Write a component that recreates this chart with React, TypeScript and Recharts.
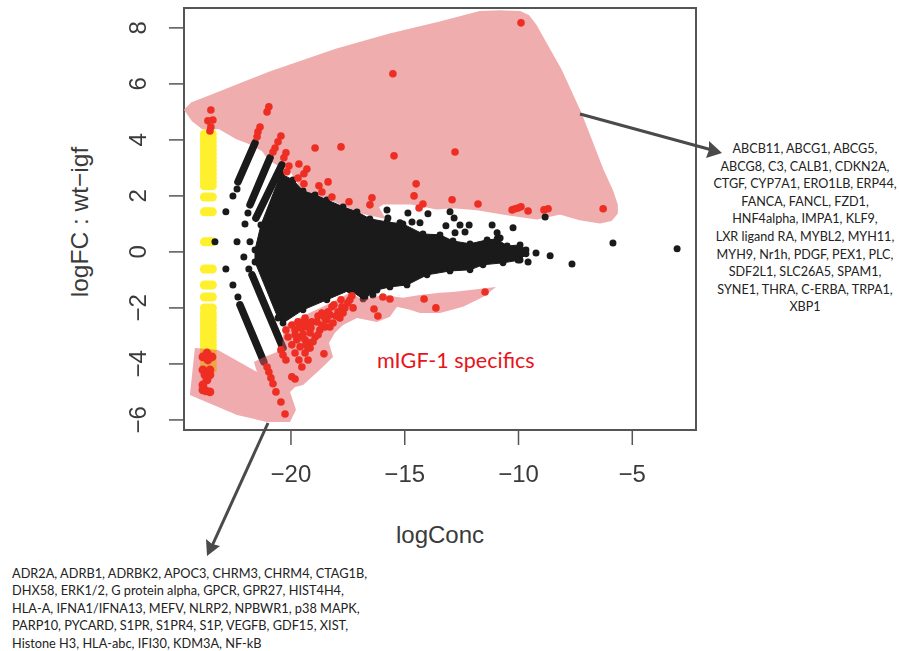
// Smear plot logFC vs logConc with pink hand-drawn regions and gene lists.
import { ScatterChart, Scatter, XAxis, YAxis, ReferenceArea } from "recharts";

type Pt = [number, number];

const X_TICKS = [-20, -15, -10, -5];
const Y_TICKS = [-6, -4, -2, 0, 2, 4, 6, 8];

// upper pink region outline
const upperRegion: Pt[] = [
  [-24.62, 5.07], [-24.35, 5.29], [-23.69, 5.5], [-20.92, 6.39], [-17.98, 7.21], [-15.65, 7.75],
  [-13.45, 8.18], [-11.69, 8.55], [-10.81, 8.58], [-9.93, 8.55], [-9.58, 8.41], [-9.27, 8.09],
  [-8.17, 6.5], [-7.3, 4.96], [-6.33, 2.93], [-5.89, 2.14], [-5.7, 1.68], [-5.7, 1.39], [-5.93, 1.16],
  [-6.42, 1.07], [-7.3, 1.18], [-8.17, 1.39],
  [-9.19, 1.21], [-10.5, 1.36], [-11.82, 1.54], [-12.88, 1.61], [-13.58, 1.57], [-14.77, 1.75],
  [-15.96, 1.75], [-16.22, 1.61], [-15.96, 1.25], [-16.97, 1.43], [-17.41, 1.61], [-18.42, 1.96],
  [-19.47, 2.21], [-20.18, 3.18], [-20.48, 3.11], [-20.92, 3.29], [-21.23, 3.64], [-21.8, 3.89],
  [-22.37, 4.07], [-23.12, 4.43], [-23.87, 4.43], [-24.31, 4.71],
];

// lower pink region outline
const lowerRegion: Pt[] = [
  [-24.22, -3.43], [-23.21, -3.5], [-21.49, -4.29], [-21.63, -3.93], [-21.27, -3.79], [-20.4, -3.5],
  [-20.31, -2.64], [-19.47, -2.29], [-18.42, -1.89], [-17.41, -1.46], [-16.83, -1.71], [-15.96, -1.54],
  [-15.08, -1.64], [-14.33, -1.54], [-13.45, -1.46], [-12.88, -1.43], [-10.99, -1.25], [-11.56, -1.61],
  [-12.44, -1.96], [-13.45, -2.18], [-14.33, -2.18], [-14.77, -2.07], [-15.34, -1.96], [-15.65, -2.32],
  [-16.22, -2.5], [-17.1, -2.36], [-17.71, -2.61], [-18.07, -2.89], [-18.33, -3.25], [-18.15, -3.75],
  [-18.73, -4.21], [-19.47, -4.75], [-19.82, -4.82], [-20.04, -5], [-19.78, -5.64], [-20.04, -6.07],
  [-21.06, -6.07], [-22.37, -5.82], [-23.43, -5.46], [-24.44, -5.11],
];

// outline of the solid black cloud, a dot sits on each vertex for the bumpy edge
const cloudEdge: Pt[] = [
  [-21.58, 0.07], [-21.32, 0.96], [-20.44, 2.79], [-19.91, 2.57], [-19.47, 2.18], [-18.94, 2.04],
  [-18.42, 1.86], [-17.71, 1.61], [-17.1, 1.43], [-16.53, 1.18], [-15.78, 1.07], [-15.08, 1],
  [-14.2, 0.64], [-13.45, 0.61], [-12.88, 0.39], [-12.13, 0.29], [-11.38, 0.43], [-10.94, 0.46],
  [-10.5, 0.21], [-9.93, 0.25], [-9.67, 0.07], [-9.67, -0.07], [-9.93, -0.29], [-10.68, -0.39],
  [-11.56, -0.46], [-12.13, -0.64], [-13.01, -0.68], [-14.02, -0.82], [-14.9, -1.18], [-15.65, -1.25],
  [-16.22, -1.36], [-16.83, -1.68], [-17.41, -1.36], [-18.42, -1.71], [-19.47, -2.07], [-20.35, -2.54],
  [-20.57, -2.36], [-21.58, -0.36],
];

// the diagonal low-count bands
const bandUpper1: Pt[] = [[-22.33, 2.5], [-21.58, 3.89]];
const bandUpper2: Pt[] = [[-21.8, 1.68], [-20.92, 3.36]];
const bandUpper3: Pt[] = [[-21.54, 1.21], [-20.4, 3.11]];
const bandLower1: Pt[] = [[-22.24, -1.89], [-21.19, -3.93]];
const bandLower2: Pt[] = [[-21.71, -0.82], [-20.35, -3.43]];

const blackDots: Pt[] = [
  [-22.86, 1.43], [-22.55, 2], [-22.37, 2.25], [-21.89, 1.39], [-22.02, 1], [-22.37, 0.36], [-21.8, 0.36],
  [-23.34, 0.36], [-22.07, -0.18], [-21.85, -0.61], [-22.86, -0.61], [-22.55, -1.18], [-22.33, -1.61],
  [-13.98, 1.36], [-13.01, 1.43], [-12.83, 1.21], [-12.57, 0.96], [-12.17, 0.96], [-13.19, 0.93],
  [-12.35, 0.71], [-12.79, 0.68], [-11.16, 0.96], [-10.94, 0.68], [-10.81, 0.5], [-10.24, 0.86],
  [-8.83, 1.25], [-5.85, 0.32], [-3.03, 0.11], [-9.23, -0.04], [-8.61, -0.14], [-9.58, -0.36],
  [-10.02, -0.29], [-7.65, -0.43], [-15.78, 1.5], [-14.86, 1.39], [-15.74, 1.21], [-15.21, 1.04],
  [-14.68, 1.07], [-14.33, 1.04], [-16.4, -1.54], [-16.75, -1.61],
];

const yellowY = [
  4.21, 4.07, 3.93, 3.79, 3.64, 3.5, 3.36, 3.21, 3.07, 2.93, 2.79, 2.64, 2.5, 2.36, 1.96, 1.43, 0.36,
  -0.61, -1.18, -1.61, -2, -2.18, -2.32, -2.46, -2.61, -2.75, -2.89, -3.04, -3.18, -3.32, -3.46, -3.61,
  -3.75, -3.89, -4.04, -4.18,
];
const YELLOW_X = -23.63;

const redDots: Pt[] = [
  [-23.52, 5.07], [-23.65, 4.68], [-23.43, 4.71], [-23.52, 4.46], [-23.56, 4.32],
  [-21.05, 5], [-20.97, 5.18], [-21.36, 4.46], [-21.45, 4.29], [-21.49, 4.11],
  [-20.44, 4.14], [-20.57, 3.93], [-20.7, 3.71], [-20.79, 3.57], [-20.22, 3.54], [-20.31, 3.36],
  [-20.09, 3.07], [-20.18, 2.86], [-19.65, 3.14], [-19.3, 2.96], [-19.43, 2.79], [-19.69, 2.64],
  [-19.43, 2.43], [-18.77, 2.36], [-18.37, 2.5], [-18.64, 2.14], [-18.2, 1.96], [-17.45, 1.79],
  [-16.44, 1.93], [-16.53, 1.68], [-18.94, 3.71], [-17.8, 3.75], [-15.47, 3.43], [-15.52, 6.36],
  [-12.79, 3.57], [-9.89, 8.18], [-14.5, 2.43], [-14.59, 2], [-14.2, 1.71], [-14.37, 1.57],
  [-12.92, 1.86], [-11.78, 1.71], [-10.28, 1.5], [-10.15, 1.54], [-10.02, 1.57], [-9.89, 1.61],
  [-9.58, 1.46], [-8.88, 1.5], [-8.7, 1.54], [-6.28, 1.54],
  [-14.15, -1.68], [-13.63, -2], [-11.47, -1.43], [-16.35, -2.04], [-16.18, -2.29], [-15.96, -1.61],
  [-15.65, -1.68], [-18.55, -3.64], [-19.96, -4.46], [-19.82, -4.54],
  [-21.05, -4.11], [-20.97, -4.29], [-20.88, -4.5], [-20.79, -4.71], [-20.66, -5], [-20.44, -5.36],
  [-20.26, -5.79], [-20.44, -3.5], [-20.35, -3.68], [-20.22, -3.86],
  [-20.22, -2.79], [-20.13, -3.04], [-19.96, -3.32], [-19.82, -3.61], [-19.65, -3.86], [-19.52, -4.11],
  [-19.74, -3.14], [-19.6, -3.39], [-19.38, -3.61], [-19.25, -3.86], [-19.96, -2.61], [-19.69, -2.5],
  [-19.38, -2.36], [-19.08, -2.5], [-19.52, -2.71], [-19.82, -2.79], [-19.3, -2.68], [-19.6, -3.04],
  [-19.38, -3.14], [-19.16, -3.25], [-18.94, -3.04], [-19.03, -3.21], [-19.25, -3.43], [-18.73, -2.79],
  [-18.86, -2.5], [-18.64, -2.18], [-18.42, -2.43], [-18.51, -2.68], [-18.15, -2.54], [-17.85, -2.36],
  [-18.2, -1.96], [-17.93, -2.14], [-17.63, -2], [-17.27, -2], [-17.41, -1.71], [-17.76, -1.96], [-18.29, -2.25],
  [-19.65, -2.71], [-19.43, -2.5], [-19.21, -2.54], [-19.82, -2.96], [-19.47, -2.93], [-19.16, -2.89],
  [-19.34, -3.32], [-19.16, -3.43], [-18.81, -2.96], [-18.64, -2.61], [-18.29, -2.68], [-18.02, -2.29],
  [-18.37, -2.14], [-18.11, -1.89], [-17.8, -1.71], [-17.5, -1.82], [-17.71, -2.18], [-17.32, -1.57],
  [-18.51, -2.36], [-18.81, -2.29], [-19.12, -2.71],
];

const redLeftDots: Pt[] = [
  [-23.87, -3.75], [-23.47, -3.75], [-23.69, -3.61], [-23.65, -3.86], [-23.87, -4.21], [-23.56, -4.21],
  [-23.78, -4.39], [-23.56, -4.39], [-23.69, -4.57], [-23.87, -4.75], [-23.87, -4.93], [-23.74, -4.96],
  [-23.56, -5],
];

const upperGenes = [
  "ABCB11, ABCG1, ABCG5,",
  "ABCG8, C3, CALB1, CDKN2A,",
  "CTGF, CYP7A1, ERO1LB, ERP44,",
  "FANCA, FANCL, FZD1,",
  "HNF4alpha, IMPA1, KLF9,",
  "LXR ligand RA, MYBL2, MYH11,",
  "MYH9, Nr1h, PDGF, PEX1, PLC,",
  "SDF2L1, SLC26A5, SPAM1,",
  "SYNE1, THRA, C-ERBA, TRPA1,",
  "XBP1",
];
const lowerGenes = [
  "ADR2A, ADRB1, ADRBK2, APOC3, CHRM3, CHRM4, CTAG1B,",
  "DHX58, ERK1/2, G protein alpha, GPCR, GPR27, HIST4H4,",
  "HLA-A, IFNA1/IFNA13, MEFV, NLRP2, NPBWR1, p38 MAPK,",
  "PARP10, PYCARD, S1PR, S1PR4, S1P, VEGFB, GDF15, XIST,",
  "Histone H3, HLA-abc, IFI30, KDM3A, NF-kB",
];

const toXY = (pts: Pt[]) => pts.map(([x, y]) => ({ x, y }));

const AXIS = "#555";
const LABEL = "#3a3a3a";
const BLACK = "#1a1a1a";
const RED = "#ee2e22";
const PINK = "rgba(224,88,94,0.5)";
const PINK_SOLID = "#efadae";
const SANS = "'Liberation Sans', Arial, sans-serif";
const GENE_FONT = "Lato, 'Open Sans', sans-serif";

const fmt = (v: number) => String(v).replace("-", "\u2212");
const none = () => <g />;
const dot = (r: number, fill: string) => (p: any) => <circle cx={p.cx} cy={p.cy} r={r} fill={fill} />;
const yellowBar = (p: any) => <rect x={p.cx - 8.5} y={p.cy - 4.5} width={17} height={9} rx={4.5} fill="#fff02e" />;

function XTick({ x, y, payload }: any) {
  return (
    <text x={x} y={y + 35} textAnchor="middle" fontSize={24} fontFamily={SANS} fill={LABEL}>
      {fmt(payload.value)}
    </text>
  );
}

function YTick({ x, y, payload }: any) {
  return (
    <text transform={`translate(${x - 21},${y}) rotate(-90)`} textAnchor="middle" fontSize={24} fontFamily={SANS} fill={LABEL}>
      {fmt(payload.value)}
    </text>
  );
}

function Band({ data }: { data: Pt[] }) {
  return (
    <Scatter data={toXY(data)} isAnimationActive={false} shape={none}
      line={{ stroke: BLACK, strokeWidth: 7.5, strokeLinecap: "round" }} />
  );
}

export default function App() {
  return (
    <div style={{ position: "absolute", left: 0, top: 0, width: 899, height: 651, background: "#fff" }}>
      <ScatterChart width={899} height={651} margin={{ top: 8, right: 203, bottom: 161, left: 124 }} style={{ filter: "blur(0.4px)" }}>
        <XAxis type="number" dataKey="x" domain={[-24.7, -2.2]} ticks={X_TICKS} allowDataOverflow
          axisLine={false} tickSize={15} tickLine={{ stroke: AXIS, strokeWidth: 1.5 }} tick={XTick} height={60} interval={0} />
        <YAxis type="number" dataKey="y" domain={[-6.36, 8.71]} ticks={Y_TICKS} allowDataOverflow
          axisLine={false} tickSize={15} tickLine={{ stroke: AXIS, strokeWidth: 1.5 }} tick={YTick} width={60} interval={0} />

        <Scatter data={yellowY.map((y) => ({ x: YELLOW_X, y }))} isAnimationActive={false} shape={yellowBar} />
        <Scatter data={toXY(upperRegion)} isAnimationActive={false} shape={none} lineJointType="linearClosed"
          line={{ fill: PINK_SOLID, stroke: PINK_SOLID, strokeWidth: 3, strokeLinejoin: "round" }} />
        <Scatter data={toXY(cloudEdge)} isAnimationActive={false} shape={dot(3.4, BLACK)} lineJointType="linearClosed"
          line={{ fill: BLACK, stroke: BLACK, strokeWidth: 1 }} />
        <Band data={bandUpper1} />
        <Band data={bandUpper2} />
        <Band data={bandUpper3} />
        <Band data={bandLower1} />
        <Band data={bandLower2} />
        <Scatter data={toXY(blackDots)} isAnimationActive={false} shape={dot(3.5, BLACK)} />
        <Scatter data={toXY(lowerRegion)} isAnimationActive={false} shape={none} lineJointType="linearClosed"
          line={{ fill: PINK, stroke: "none" }} />
        <Scatter data={toXY(redDots)} isAnimationActive={false} shape={dot(3.8, RED)} />
        <Scatter data={toXY(redLeftDots)} isAnimationActive={false} shape={dot(4.4, RED)} />

        <ReferenceArea x1={-24.7} x2={-2.2} y1={-6.36} y2={8.71} fill="none" stroke={AXIS} strokeWidth={2} />
      </ScatterChart>

      {/* axis titles, gene lists and arrows are annotations laid over the chart */}
      <svg width={899} height={651} style={{ position: "absolute", left: 0, top: 0, pointerEvents: "none" }}>
        <text x={440} y={543} textAnchor="middle" fontSize={24} fontFamily={SANS} fill={LABEL}>logConc</text>
        <text transform="translate(88,222) rotate(-90)" textAnchor="middle" fontSize={24.5} fontFamily={SANS} fill={LABEL}>
          {"logFC : wt\u2212igf"}
        </text>
        <line x1={580} y1={114} x2={712} y2={150} stroke="#4a4a4a" strokeWidth={3} />
        <path d="M722 153 L706 158 L709 150 L709 141 Z" fill="#4a4a4a" />
        <line x1={268} y1={423} x2={212} y2={546} stroke="#4a4a4a" strokeWidth={3} />
        <path d="M207 556 L206 539 L212 544 L220 546 Z" fill="#4a4a4a" />
      </svg>

      <div style={{ position: "absolute", left: 377, top: 346, fontFamily: GENE_FONT, fontSize: 21.6, color: "#e8141c", whiteSpace: "nowrap", lineHeight: "28px" }}>
        mIGF-1 specifics
      </div>
      <div style={{ position: "absolute", left: 705, top: 140, width: 200, textAlign: "center", fontFamily: GENE_FONT, fontSize: 12.6, lineHeight: "17.6px", color: "#222" }}>
        {upperGenes.map((l) => <div key={l} style={{ whiteSpace: "nowrap" }}>{l}</div>)}
      </div>
      <div style={{ position: "absolute", left: 12, top: 564.5, fontFamily: GENE_FONT, fontSize: 12.75, lineHeight: "17.6px", color: "#222" }}>
        {lowerGenes.map((l) => <div key={l} style={{ whiteSpace: "nowrap" }}>{l}</div>)}
      </div>
    </div>
  );
}
